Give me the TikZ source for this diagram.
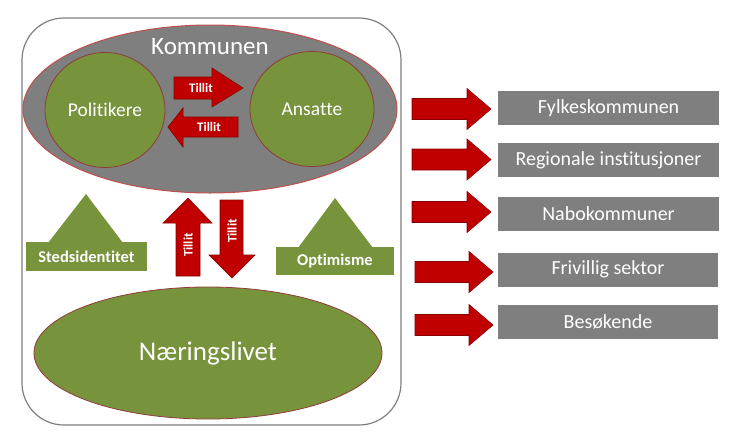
\documentclass[tikz,border=0pt]{standalone}
\usepackage{fontspec}
\setmainfont[Ligatures=NoCommon]{Carlito}
\usetikzlibrary{shapes.geometric}
\definecolor{ogreen}{HTML}{77933C}
\definecolor{dred}{HTML}{C00000}
\definecolor{dgray}{HTML}{7F7F7F}
\definecolor{edgered}{HTML}{C0504D}
\newcommand\rarr[3]{\draw[barrow] (#1,#3-10.5) -- (#2-24,#3-10.5) -- (#2-24,#3-20.5) -- (#2,#3) -- (#2-24,#3+20.5) -- (#2-24,#3+10.5) -- (#1,#3+10.5) -- cycle;}
\begin{document}
\begin{tikzpicture}[x=1pt,y=-1pt,
  greenell/.style={ellipse, fill=ogreen, draw=edgered!75!black, line width=0.8pt, inner sep=0pt, text=white},
  barrow/.style={fill=dred, draw=dred!70!black, line width=0.6pt},
  tilt/.style={text=white, font=\fontsize{13}{15}\selectfont\bfseries, inner sep=0pt},
  gbox/.style={fill=dgray, minimum width=221pt, minimum height=34pt, inner sep=0pt, text=white, font=\fontsize{20}{24}\selectfont},
  glabel/.style={fill=ogreen, inner sep=0pt, text=white, font=\fontsize{16.5}{19}\selectfont\bfseries},
  tri/.style={fill=ogreen}]
\useasboundingbox[fill=white] (0,0) rectangle (732,440);
% outer frame
\node[draw=dgray, line width=1.2pt, rounded corners=42pt, minimum width=379pt, minimum height=407pt, inner sep=0pt] (frame) at (211.5,221.5) {};
% Kommunen
\node[ellipse, fill=dgray, draw=edgered, line width=1pt, minimum width=374pt, minimum height=168pt, inner sep=0pt] (komm) at (210,109) {};
\node[text=white, font=\fontsize{25}{30}\selectfont, inner sep=0pt] (kommt) at (210,47) {Kommunen};
\node[greenell, minimum width=120pt, minimum height=115pt, font=\fontsize{19.5}{23}\selectfont] (pol) at (105,110) {Politikere};
\node[greenell, minimum width=124pt, minimum height=115pt, font=\fontsize{19.5}{23}\selectfont] (ans) at (312,109) {Ansatte};
% Tillit horizontal arrows
\draw[barrow] (174,77) -- (212,77) -- (212,68) -- (243,88) -- (212,107) -- (212,99) -- (174,99) -- cycle;
\node[tilt] (t1) at (201,88) {Tillit};
\draw[barrow] (238,117) -- (183,117) -- (183,108) -- (168,127) -- (183,147) -- (183,137) -- (238,137) -- cycle;
\node[tilt] (t2) at (209,127) {Tillit};
% Tillit vertical arrows
\draw[barrow] (176,276) -- (176,223) -- (163,223) -- (188,198) -- (212,223) -- (200,223) -- (200,276) -- cycle;
\node[tilt, rotate=90] (t3) at (188,245) {Tillit};
\draw[barrow] (220,200) -- (243,200) -- (243,255) -- (255,255) -- (232,278) -- (209,255) -- (220,255) -- cycle;
\node[tilt, rotate=90] (t4) at (232,231) {Tillit};
% triangles
\fill[tri] (86,194) -- (123,243) -- (48,243) -- cycle;
\node[glabel, minimum width=121pt, minimum height=29pt] (sted) at (86.5,256.5) {Stedsidentitet};
\fill[tri] (335,198) -- (373,248) -- (298,248) -- cycle;
\node[glabel, minimum width=118pt, minimum height=28pt] (opt) at (335,261) {Optimisme};
% Naeringslivet
\node[greenell, minimum width=348pt, minimum height=132pt, font=\fontsize{27}{32}\selectfont] (naer) at (208,353) {Næringslivet};
% right side
\rarr{412}{491}{109}
\rarr{412}{491}{159.5}
\rarr{412}{491}{212}
\rarr{415}{493}{272}
\rarr{415}{493}{325}
\node[gbox] (b1) at (608.5,108) {Fylkeskommunen};
\node[gbox] (b2) at (608.5,160) {Regionale institusjoner};
\node[gbox] (b3) at (608.5,213.5) {Nabokommuner};
\node[gbox, minimum width=220pt] (b4) at (608,269.5) {Frivillig sektor};
\node[gbox, minimum width=220pt] (b5) at (608,322) {Besøkende};
\end{tikzpicture}
\end{document}
